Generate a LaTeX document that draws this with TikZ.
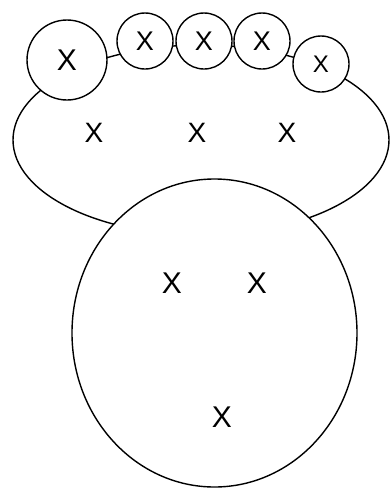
\documentclass[tikz,border=0pt]{standalone}
\usepackage{fontspec}
\setmainfont{Liberation Sans}
\usepackage{tikz}
\usetikzlibrary{shapes.geometric}

\begin{document}
\begin{tikzpicture}[x=0.5pt, y=-0.5pt, line width=0.7pt,
  bead/.style={draw, circle, fill=white, inner sep=0pt, minimum size=28pt,
    font=\fontsize{13.5}{13.5}\selectfont},
  body/.style={draw, ellipse, fill=white, inner sep=0pt,
    minimum width=142.5pt, minimum height=154pt},
  cross/.style={inner sep=0pt, font=\fontsize{14}{14}\selectfont},
]
  \useasboundingbox (0,0) rectangle (390,488);

  % oval behind everything
  \draw (201,140) ellipse [x radius=188, y radius=95];
  \node[cross] (o1) at (94,133) {X};
  \node[cross] (o2) at (197,133) {X};
  \node[cross] (o3) at (287,133) {X};

  % beads on the rim
  \node[bead, minimum size=40pt, font=\fontsize{15}{15}\selectfont] (b1) at (67,60) {X};
  \node[bead] (b2) at (145,41) {X};
  \node[bead] (b3) at (204,41) {X};
  \node[bead] (b4) at (262,41) {X};
  \node[bead, font=\fontsize{12}{12}\selectfont] (b5) at (321,64) {X};

  % large body
  \node[body] (big) at (214.5,333) {};
  \node[cross, font=\fontsize{15}{15}\selectfont] (g1) at (172,283) {X};
  \node[cross, font=\fontsize{15}{15}\selectfont] (g2) at (257,283) {X};
  \node[cross, font=\fontsize{15}{15}\selectfont] (g3) at (222,417) {X};
\end{tikzpicture}
\end{document}
